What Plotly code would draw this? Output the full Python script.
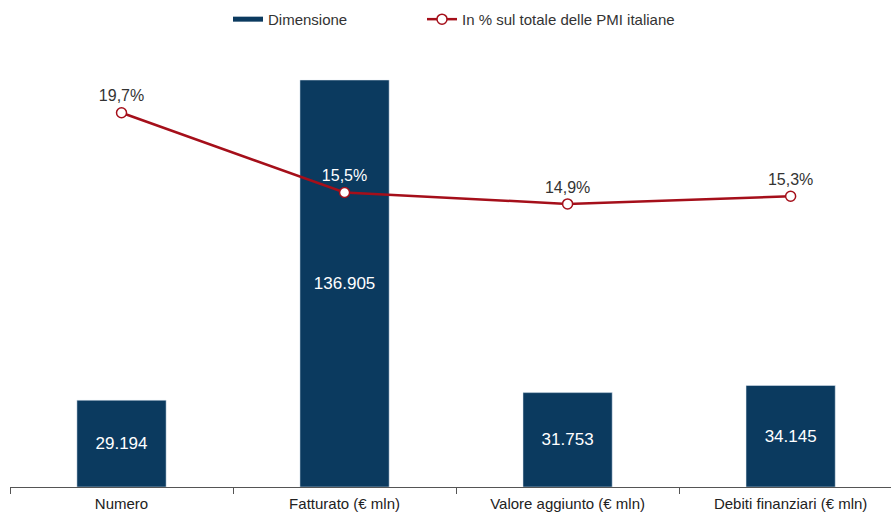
import plotly.graph_objects as go

categories = ["Numero", "Fatturato (€ mln)", "Valore aggiunto (€ mln)", "Debiti finanziari (€ mln)"]
dimensione = [29194, 136905, 31753, 34145]
quota_pmi = [19.7, 15.5, 14.9, 15.3]
label_colors = ["#333333", "#ffffff", "#333333", "#333333"]

BAR = "#0b3a5f"
RED = "#a50f1a"
FONT = "Liberation Sans, Arial, sans-serif"

W, H = 891, 513
ML, MR, MT, MB = 10, 0, 50, 26

fig = go.Figure()
fig.add_trace(go.Bar(
    x=categories, y=dimensione, name="Dimensione", showlegend=False,
    marker=dict(color=BAR), width=0.4,
    texttemplate="%{y:,.0f}", textposition="inside", insidetextanchor="middle",
    textfont=dict(color="white", size=17, family=FONT),
))
# legend entry for bars (drawn as a thick line like the reference)
fig.add_trace(go.Scatter(
    x=[None], y=[None], mode="lines", name="Dimensione", legend="legend",
    line=dict(color=BAR, width=5),
))
fig.add_trace(go.Scatter(
    x=categories, y=quota_pmi, name="In % sul totale delle PMI italiane",
    yaxis="y2", mode="lines+markers+text", legend="legend2",
    line=dict(color=RED, width=2.5),
    marker=dict(size=10, color="white", line=dict(color=RED, width=1.5)),
    texttemplate="%{y:.1f}%", textposition="top center",
    textfont=dict(color=label_colors, size=16, family=FONT),
))

plot_w = W - ML - MR
leg_common = dict(orientation="h", xanchor="left", y=1.07, yanchor="middle",
                  font=dict(size=15, color="#333333"), itemwidth=30,
                  bgcolor="rgba(0,0,0,0)")
fig.update_layout(
    width=W, height=H,
    margin=dict(l=ML, r=MR, t=MT, b=MB, autoexpand=False),
    paper_bgcolor="white", plot_bgcolor="white",
    separators=",.",
    font=dict(family=FONT, size=16, color="#333333"),
    showlegend=True,
    legend=dict(x=(228 - ML) / plot_w, **leg_common),
    legend2=dict(x=(422 - ML) / plot_w, **leg_common),
    xaxis=dict(type="category", range=[-0.5, 3.45], tickson="boundaries",
               ticks="outside", ticklen=6, tickcolor="#555555",
               showline=True, linecolor="#555555", linewidth=1,
               ticklabelstandoff=3,
               showgrid=False, tickfont=dict(size=15, color="#222222")),
    yaxis=dict(range=[0, 147000], visible=False, showgrid=False),
    yaxis2=dict(range=[0, 23], overlaying="y", visible=False, showgrid=False),
)

fig.write_html("out.html", config={"displayModeBar": False},
               post_script="document.body.style.margin='0';")
